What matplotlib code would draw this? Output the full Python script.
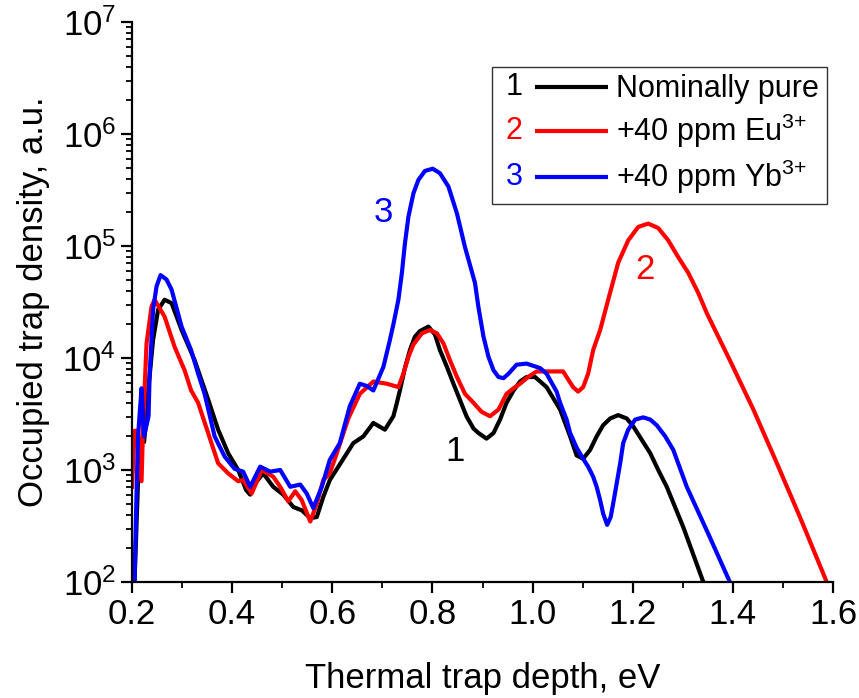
import matplotlib
matplotlib.use("Agg")
import matplotlib.pyplot as plt
import numpy as np
from matplotlib.legend_handler import HandlerBase
from matplotlib.lines import Line2D
from matplotlib.text import Text
from matplotlib.ticker import MultipleLocator, LogLocator, FormatStrFormatter

plt.rcParams['font.family'] = ['Liberation Sans', 'DejaVu Sans']
plt.rcParams['mathtext.fontset'] = 'custom'
plt.rcParams['mathtext.rm'] = 'Liberation Sans'
plt.rcParams['mathtext.it'] = 'Liberation Sans:italic'
plt.rcParams['mathtext.default'] = 'regular'

# curve 1 - nominally pure (energy in eV, log10 of density)
e_pure = [0.205, 0.212, 0.218, 0.224, 0.229, 0.233, 0.242, 0.252, 0.265, 0.279,
          0.299, 0.325, 0.352, 0.372, 0.392, 0.412, 0.428, 0.436, 0.446, 0.462,
          0.482, 0.502, 0.522, 0.539, 0.556, 0.569, 0.582, 0.595, 0.615, 0.642,
          0.662, 0.682, 0.705, 0.722, 0.729, 0.735, 0.745, 0.755, 0.765, 0.775,
          0.792, 0.805, 0.815, 0.829, 0.842, 0.855, 0.868, 0.882, 0.892, 0.908,
          0.922, 0.935, 0.948, 0.962, 0.975, 0.988, 1.005, 1.028, 1.055, 1.075,
          1.088, 1.101, 1.115, 1.128, 1.141, 1.155, 1.171, 1.188, 1.201, 1.218,
          1.235, 1.251, 1.268, 1.301, 1.341]
lg_pure = [2.0, 2.9, 3.25, 3.25, 3.48, 3.74, 4.16, 4.43, 4.52, 4.49,
           4.25, 3.98, 3.63, 3.36, 3.15, 3.0, 2.82, 2.78, 2.88, 2.97,
           2.85, 2.78, 2.67, 2.64, 2.57, 2.58, 2.76, 2.91, 3.05, 3.24,
           3.30, 3.42, 3.36, 3.48, 3.60, 3.71, 3.91, 4.07, 4.19, 4.24,
           4.28, 4.21, 4.07, 3.92, 3.77, 3.625, 3.48, 3.37, 3.33, 3.28,
           3.33, 3.45, 3.60, 3.71, 3.79, 3.83, 3.83, 3.74, 3.54, 3.30,
           3.13, 3.10, 3.18, 3.30, 3.40, 3.46, 3.49, 3.46, 3.39, 3.27,
           3.15, 3.0, 2.85, 2.49, 2.0]

# curve 2 - +40 ppm Eu
e_eu = [0.200, 0.205, 0.212, 0.219, 0.222, 0.229, 0.239, 0.245, 0.265, 0.285,
        0.305, 0.318, 0.332, 0.352, 0.372, 0.392, 0.412, 0.422, 0.439, 0.459,
        0.482, 0.496, 0.512, 0.526, 0.539, 0.556, 0.569, 0.582, 0.595, 0.609,
        0.632, 0.655, 0.682, 0.709, 0.732, 0.742, 0.752, 0.762, 0.779, 0.795,
        0.809, 0.822, 0.835, 0.849, 0.865, 0.882, 0.898, 0.915, 0.932, 0.948,
        0.962, 0.975, 0.991, 1.008, 1.041, 1.061, 1.068, 1.081, 1.091, 1.101,
        1.111, 1.121, 1.135, 1.151, 1.171, 1.191, 1.211, 1.231, 1.251, 1.271,
        1.291, 1.311, 1.331, 1.348, 1.394, 1.441, 1.488, 1.534, 1.5875]
lg_eu = [2.85, 3.35, 3.35, 2.9, 3.39, 4.13, 4.46, 4.52, 4.37, 4.10,
         3.89, 3.71, 3.60, 3.33, 3.06, 2.97, 2.90, 2.91, 2.79, 3.0,
         2.94, 2.85, 2.72, 2.81, 2.73, 2.54, 2.70, 2.91, 2.97, 3.15,
         3.46, 3.68, 3.79, 3.77, 3.74, 3.86, 4.01, 4.12, 4.22, 4.25,
         4.22, 4.13, 3.98, 3.83, 3.68, 3.60, 3.52, 3.48, 3.54, 3.68,
         3.73, 3.77, 3.83, 3.88, 3.88, 3.88, 3.83, 3.74, 3.70, 3.74,
         3.86, 4.07, 4.25, 4.52, 4.85, 5.05, 5.17, 5.20, 5.16, 5.05,
         4.90, 4.76, 4.58, 4.40, 3.98, 3.54, 3.06, 2.58, 2.0]

# curve 3 - +40 ppm Yb
e_yb = [0.205, 0.209, 0.212, 0.219, 0.222, 0.224, 0.233, 0.235, 0.242, 0.249,
        0.257, 0.269, 0.279, 0.299, 0.318, 0.332, 0.345, 0.365, 0.385, 0.405,
        0.422, 0.436, 0.456, 0.476, 0.496, 0.516, 0.536, 0.549, 0.562, 0.579,
        0.595, 0.615, 0.635, 0.655, 0.669, 0.682, 0.702, 0.715, 0.722, 0.732,
        0.739, 0.745, 0.752, 0.762, 0.772, 0.785, 0.8005, 0.815, 0.832, 0.849,
        0.865, 0.885, 0.892, 0.902, 0.912, 0.922, 0.932, 0.942, 0.952, 0.968,
        0.988, 1.015, 1.028, 1.048, 1.055, 1.068, 1.075, 1.088, 1.101, 1.111,
        1.121, 1.128, 1.135, 1.141, 1.149, 1.156, 1.161, 1.168, 1.175, 1.181,
        1.191, 1.205, 1.221, 1.235, 1.248, 1.265, 1.281, 1.308, 1.354, 1.394]
lg_yb = [2.0, 2.79, 3.30, 3.73, 3.48, 3.30, 3.48, 3.83, 4.43, 4.64,
         4.74, 4.70, 4.61, 4.28, 4.07, 3.86, 3.68, 3.30, 3.12, 3.01,
         2.985, 2.85, 3.03, 2.985, 3.0, 2.85, 2.87, 2.79, 2.66, 2.85,
         3.09, 3.24, 3.57, 3.77, 3.75, 3.71, 3.92, 4.16, 4.30, 4.52,
         4.76, 5.02, 5.26, 5.47, 5.59, 5.67, 5.69, 5.65, 5.53, 5.29,
         4.99, 4.67, 4.45, 4.19, 4.01, 3.89, 3.83, 3.82, 3.86, 3.94,
         3.95, 3.91, 3.86, 3.70, 3.60, 3.45, 3.33, 3.20, 3.10, 3.03,
         2.94, 2.85, 2.73, 2.61, 2.51, 2.58, 2.70, 2.88, 3.06, 3.24,
         3.36, 3.45, 3.47, 3.45, 3.40, 3.30, 3.18, 2.85, 2.40, 2.0]

names = ['Nominally pure', '+40 ppm Eu$^{3{+}}$', '+40 ppm Yb$^{3{+}}$']
numbers = ['1', '2', '3']
colors = ['#000000', '#ff0000', '#0000ff']


class NumLine(HandlerBase):
    # legend key: coloured curve number followed by a short line
    def __init__(self, num):
        super().__init__()
        self.num = num

    def create_artists(self, legend, orig_handle, xdescent, ydescent,
                       width, height, fontsize, trans):
        y = height / 2 - ydescent
        c = orig_handle.get_color()
        t = Text(-xdescent + 0.2 * fontsize, y, self.num, color=c, fontsize=fontsize,
                 ha='left', va='center', transform=trans)
        x0 = -xdescent + 1.16 * fontsize
        ln = Line2D([x0, width - xdescent], [y, y], color=c,
                    lw=orig_handle.get_linewidth(), solid_capstyle='butt')
        ln.set_transform(trans)
        return [t, ln]


fig = plt.figure(figsize=(8.59, 6.98), dpi=100)
ax = fig.add_axes([0.1537, 0.1662, 0.9697 - 0.1537, 0.9685 - 0.1662])

lines = []
for e, lg, name, c in zip([e_pure, e_eu, e_yb], [lg_pure, lg_eu, lg_yb], names, colors):
    ln, = ax.plot(e, 10 ** np.array(lg), color=c, lw=3, label=name,
                  solid_joinstyle='round')
    lines.append(ln)

ax.set_yscale('log')
ax.set_xlim(0.2, 1.6)
ax.set_ylim(1e2, 1e7)

ax.xaxis.set_major_locator(MultipleLocator(0.2))
ax.xaxis.set_minor_locator(MultipleLocator(0.1))
ax.xaxis.set_major_formatter(FormatStrFormatter('%.1f'))
ax.yaxis.set_major_locator(LogLocator(base=10, numticks=10))
ax.yaxis.set_minor_locator(LogLocator(base=10, subs=np.arange(2, 10), numticks=20))

for s in ['top', 'right']:
    ax.spines[s].set_visible(False)
for s in ['left', 'bottom']:
    ax.spines[s].set_linewidth(1.6)

ax.tick_params(which='major', direction='out', length=8, width=1.6, labelsize=25)
ax.tick_params(which='minor', direction='out', length=4.5, width=1.3)

ax.set_xlabel('Thermal trap depth, eV', fontsize=25, labelpad=22)
ax.set_ylabel('Occupied trap density, a.u.', fontsize=25, labelpad=9)

# curve numbers
ax.text(0.845, 1.45e3, '1', color=colors[0], fontsize=25, ha='center', va='center')
ax.text(1.2246, 6.2e4, '2', color=colors[1], fontsize=25, ha='center', va='center')
ax.text(0.701, 2.0e5, '3', color=colors[2], fontsize=25, ha='center', va='center')

leg = ax.legend(handles=lines, loc='upper right', bbox_to_anchor=(0.991, 0.92),
                handler_map={ln: NumLine(n) for ln, n in zip(lines, numbers)},
                fontsize=22, handlelength=3.55, handletextpad=0.26,
                labelspacing=0.25, borderpad=0.25, borderaxespad=0,
                fancybox=False, edgecolor='#333333', framealpha=1)
leg.get_frame().set_linewidth(1.0)

fig.savefig('out.png', dpi=100)
